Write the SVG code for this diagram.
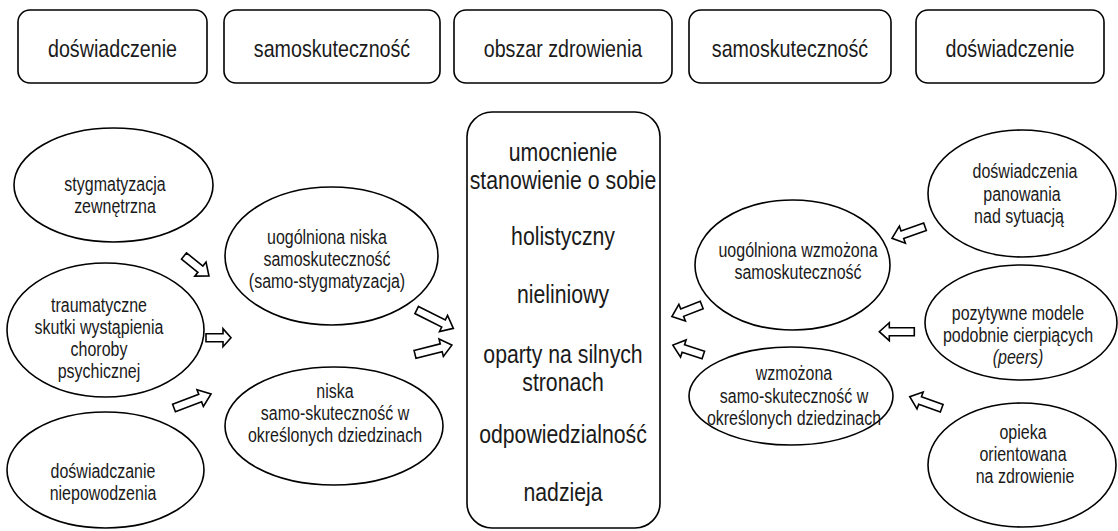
<svg xmlns="http://www.w3.org/2000/svg" width="1118" height="531" viewBox="0 0 1118 531">
<style>
.box{fill:#fff;stroke:#000;stroke-width:1.6}
.el{fill:#fff;stroke:#000;stroke-width:1.6}
.arr{fill:#fff;stroke:#000;stroke-width:1.6;stroke-linejoin:miter}
text{font-family:"Liberation Sans",Arial,sans-serif;fill:#1a1a1a;text-anchor:middle}
.th{font-size:24px}
.tc{font-size:25px}
.te{font-size:19.5px}
</style>
<rect width="1118" height="531" fill="#fff"/>
<g id="hdr1"><rect class="box" x="18" y="10" width="189" height="73" rx="12"/><text class="th" transform="translate(112.5,57) scale(.82,1)">doświadczenie</text></g>
<g id="hdr2"><rect class="box" x="224" y="10" width="216" height="73" rx="12"/><text class="th" transform="translate(332,57) scale(.82,1)">samoskuteczność</text></g>
<g id="hdr3"><rect class="box" x="454" y="10" width="218" height="73" rx="12"/><text class="th" transform="translate(563,57) scale(.82,1)">obszar zdrowienia</text></g>
<g id="hdr4"><rect class="box" x="689" y="10" width="202" height="73" rx="12"/><text class="th" transform="translate(790,57) scale(.82,1)">samoskuteczność</text></g>
<g id="hdr5"><rect class="box" x="916" y="10" width="188" height="73" rx="12"/><text class="th" transform="translate(1010,57) scale(.82,1)">doświadczenie</text></g>

<g id="center"><rect class="box" x="467" y="112" width="193" height="416" rx="25"/>
<text class="tc" transform="translate(563,161) scale(.85,1)">umocnienie</text>
<text class="tc" transform="translate(563,189) scale(.85,1)">stanowienie o sobie</text>
<text class="tc" transform="translate(563,245) scale(.85,1)">holistyczny</text>
<text class="tc" transform="translate(563,303) scale(.85,1)">nieliniowy</text>
<text class="tc" transform="translate(563,363) scale(.85,1)">oparty na silnych</text>
<text class="tc" transform="translate(563,391) scale(.85,1)">stronach</text>
<text class="tc" transform="translate(563,443) scale(.85,1)">odpowiedzialność</text>
<text class="tc" transform="translate(563,501) scale(.85,1)">nadzieja</text>
</g>

<g id="e1"><ellipse class="el" cx="113.5" cy="185" rx="99.5" ry="57"/>
<text class="te" transform="translate(115,191) scale(.82,1)">stygmatyzacja</text><text class="te" transform="translate(115,213) scale(.82,1)">zewnętrzna</text></g>
<g id="e2"><ellipse class="el" cx="105.5" cy="330" rx="98.5" ry="67"/>
<text class="te" transform="translate(99,312) scale(.82,1)">traumatyczne</text><text class="te" transform="translate(99,334) scale(.82,1)">skutki wystąpienia</text><text class="te" transform="translate(99,356) scale(.82,1)">choroby</text><text class="te" transform="translate(99,378) scale(.82,1)">psychicznej</text></g>
<g id="e3"><ellipse class="el" cx="105.5" cy="470" rx="98.5" ry="58"/>
<text class="te" transform="translate(103,478) scale(.82,1)">doświadczanie</text><text class="te" transform="translate(103,500) scale(.82,1)">niepowodzenia</text></g>
<g id="eA"><ellipse class="el" cx="331.5" cy="256" rx="106.5" ry="69"/>
<text class="te" transform="translate(327,244) scale(.82,1)">uogólniona niska</text><text class="te" transform="translate(327,266) scale(.82,1)">samoskuteczność</text><text class="te" transform="translate(327,288) scale(.82,1)">(samo-stygmatyzacja)</text></g>
<g id="eB"><ellipse class="el" cx="334" cy="426" rx="109" ry="59"/>
<text class="te" transform="translate(335,398) scale(.82,1)">niska</text><text class="te" transform="translate(335,420) scale(.82,1)">samo-skuteczność w</text><text class="te" transform="translate(335,442) scale(.82,1)">określonych dziedzinach</text></g>
<g id="eC"><ellipse class="el" cx="792.5" cy="265" rx="97.5" ry="65"/>
<text class="te" transform="translate(798,257) scale(.82,1)">uogólniona wzmożona</text><text class="te" transform="translate(798,279) scale(.82,1)">samoskuteczność</text></g>
<g id="eD"><ellipse class="el" cx="791" cy="396" rx="102" ry="49"/>
<text class="te" transform="translate(794,380) scale(.82,1)">wzmożona</text><text class="te" transform="translate(794,403) scale(.82,1)">samo-skuteczność w</text><text class="te" transform="translate(794,425) scale(.82,1)">określonych dziedzinach</text></g>
<g id="eE"><ellipse class="el" cx="1022" cy="193.5" rx="94" ry="63.5"/>
<text class="te" transform="translate(1025,178) scale(.82,1)">doświadczenia</text><text class="te" transform="translate(1022,201) scale(.82,1)">panowania</text><text class="te" transform="translate(1019,223) scale(.82,1)">nad sytuacją</text></g>
<g id="eF"><ellipse class="el" cx="1021" cy="322.5" rx="96" ry="57.5"/>
<text class="te" transform="translate(1018,320) scale(.82,1)">pozytywne modele</text><text class="te" transform="translate(1018,342) scale(.82,1)">podobnie cierpiących</text><text class="te" transform="translate(1018,364) scale(.82,1)" font-style="italic">(peers)</text></g>
<g id="eG"><ellipse class="el" cx="1022" cy="465" rx="94" ry="62"/>
<text class="te" transform="translate(1023,439) scale(.82,1)">opieka</text><text class="te" transform="translate(1023,461) scale(.82,1)">orientowana</text><text class="te" transform="translate(1025,483) scale(.82,1)">na zdrowienie</text></g>

<g id="connectors">
<path class="arr" transform="translate(184,256) rotate(38.7)" d="M0,-4 H21 V-9 L32,0 L21,9 V4 H0 Z"/>
<path class="arr" transform="translate(206,337.7)" d="M0,-4 H17 V-9 L25,0 L17,9 V4 H0 Z"/>
<path class="arr" transform="translate(174,408) rotate(-20.7)" d="M0,-4 H28 V-9 L39.6,0 L28,9 V4 H0 Z"/>
<path class="arr" transform="translate(416.7,310) rotate(26.6)" d="M0,-4 H30 V-9 L41,0 L30,9 V4 H0 Z"/>
<path class="arr" transform="translate(415,354.3) rotate(-14)" d="M0,-4 H27 V-9 L38,0 L27,9 V4 H0 Z"/>
<path class="arr" transform="translate(701.7,305) rotate(158.7)" d="M0,-4 H21 V-9 L32,0 L21,9 V4 H0 Z"/>
<path class="arr" transform="translate(703.3,355) rotate(198)" d="M0,-4 H21 V-9 L32,0 L21,9 V4 H0 Z"/>
<path class="arr" transform="translate(925,226.7) rotate(160.6)" d="M0,-4 H24 V-9 L35,0 L24,9 V4 H0 Z"/>
<path class="arr" transform="translate(914.3,331.7) rotate(180)" d="M0,-4 H25 V-9 L35,0 L25,9 V4 H0 Z"/>
<path class="arr" transform="translate(941.7,408.3) rotate(200)" d="M0,-4 H23 V-9 L34,0 L23,9 V4 H0 Z"/>
</g>
</svg>
